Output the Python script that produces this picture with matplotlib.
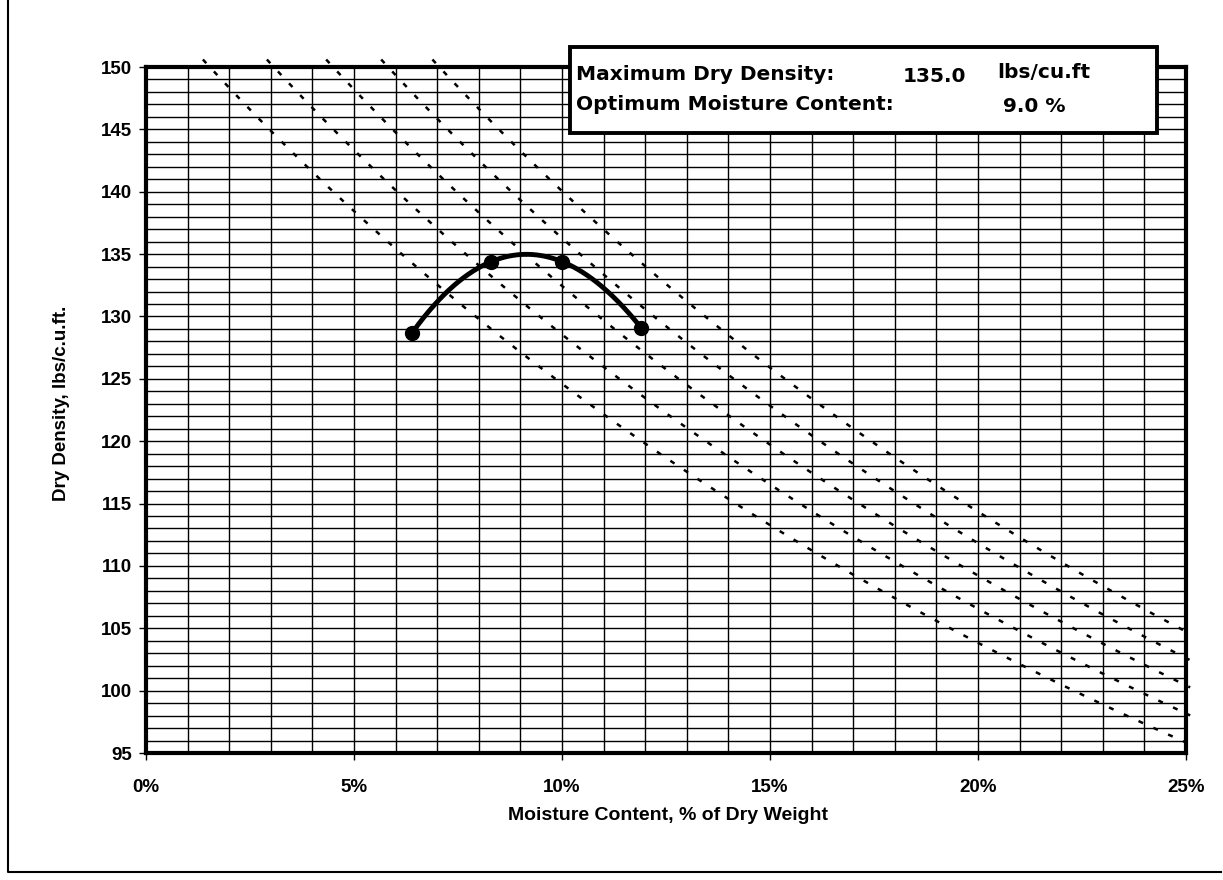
import matplotlib.pyplot as plt
import numpy as np
from matplotlib.patches import Rectangle
from matplotlib.lines import Line2D

plt.rcParams['font.family'] = ['Liberation Sans', 'DejaVu Sans']

# Compaction test points (moisture %, dry density pcf)
moisture = [6.4, 8.3, 10.0, 11.9]
dry_density = [128.7, 134.4, 134.4, 129.1]

# Zero-air-voids lines, specific gravities
specific_gravity = [2.5, 2.6, 2.7, 2.8, 2.9]
unit_weight_water = 62.3

max_dry_density = '135.0'
opt_moisture = '9.0 %'

W, H = 1223, 880
fig = plt.figure(figsize=(W / 100, H / 100), dpi=100)
ax = fig.add_axes([146 / W, 1 - 753 / H, (1186 - 146) / W, (753 - 67) / H])

ax.set_xlim(0, 25)
ax.set_ylim(95, 150)

# grid every 1 unit
ax.set_xticks(np.arange(0, 26, 1), minor=True)
ax.set_yticks(np.arange(95, 151, 1), minor=True)
ax.set_xticks(np.arange(0, 26, 5))
ax.set_yticks(np.arange(95, 151, 5))
ax.grid(True, which='both', color='black', linewidth=1.0)
ax.tick_params(which='minor', length=0)
ax.tick_params(which='major', length=5, width=1, pad=5, labelsize=13.5)
ax.set_xticklabels([f'{v}%' for v in range(0, 26, 5)], fontweight='bold')
ax.set_yticklabels([str(v) for v in range(95, 151, 5)], fontweight='bold')
ax.tick_params(axis='x', pad=14)
for s in ax.spines.values():
    s.set_linewidth(3)

# zero air voids curves
for gs in specific_gravity:
    w_start = (gs * unit_weight_water / 150.6 - 1) / gs * 100
    w = np.linspace(w_start, 25.1, 200)
    gd = gs * unit_weight_water / (1 + w / 100 * gs)
    ax.plot(w, gd, color='black', linewidth=1.8, linestyle=(0, (2, 4.5)),
            clip_on=False, zorder=3)

# compaction curve
coef = np.polyfit(moisture, dry_density, 3)
wc = np.linspace(min(moisture), max(moisture), 200)
ax.plot(wc, np.polyval(coef, wc), color='black', linewidth=3.5, zorder=4)
ax.plot(moisture, dry_density, 'o', color='black', markersize=10, zorder=5)

fig.text(62 / W, 1 - 403 / H, 'Dry Density, lbs/c.u.ft.', rotation=90,
         ha='center', va='center', fontsize=13.5, fontweight='bold')
fig.text(668 / W, 1 - 815 / H, 'Moisture Content, % of Dry Weight',
         ha='center', va='center', fontsize=14, fontweight='bold')

# info box
fig.patches.append(Rectangle((570 / W, 1 - 133 / H), (1157 - 570) / W, (133 - 47) / H,
                             transform=fig.transFigure, facecolor='white',
                             edgecolor='black', linewidth=2.8, zorder=10))
box_font = dict(family='DejaVu Sans', fontsize=14.5, fontweight='bold', zorder=11)
fig.text(576 / W, 1 - 74 / H, 'Maximum Dry Density:', ha='left', va='center', **box_font)
fig.text(934 / W, 1 - 76 / H, max_dry_density, ha='center', va='center', **box_font)
fig.text(997 / W, 1 - 73 / H, 'lbs/cu.ft', ha='left', va='center', **box_font)
fig.text(576 / W, 1 - 104 / H, 'Optimum Moisture Content:', ha='left', va='center', **box_font)
fig.text(1003 / W, 1 - 106 / H, opt_moisture, ha='left', va='center', **box_font)

# outer frame (left and bottom edges visible)
fig.add_artist(Line2D([8 / W, 8 / W, 1 - 2 / W], [1, 1 - 872 / H, 1 - 872 / H],
                      transform=fig.transFigure, color='black', linewidth=1.5))

fig.savefig('out.png', dpi=100)
